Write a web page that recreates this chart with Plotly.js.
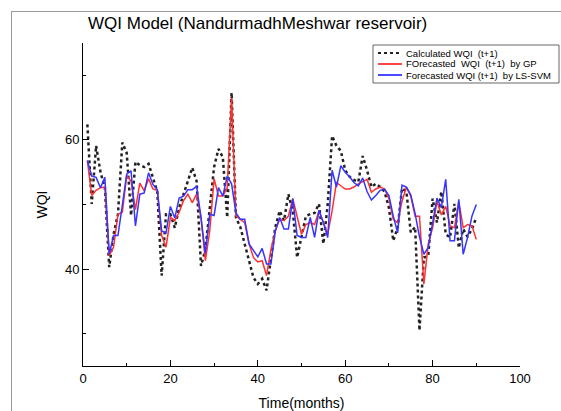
<!DOCTYPE html>
<html>
<head>
<meta charset="utf-8">
<script src="https://cdn.plot.ly/plotly-3.0.1.min.js"></script>
<style>
html,body{margin:0;padding:0;background:#fff;overflow:hidden;}
#chart{width:561px;height:411px;position:relative;}
#frame{position:absolute;left:11px;top:11px;width:600px;height:450px;border:1px solid #999;pointer-events:none;}
</style>
</head>
<body>
<div id="chart"></div>
<div id="frame"></div>
<script>
const months = [];
for (let i = 1; i <= 90; i++) months.push(i);

const calculatedWQI = [62.4,50.1,59.1,55,52.6,40.3,45.4,48.5,59.6,58,
48.3,56.6,56.1,55.8,56.3,54.3,52,39,48.5,48.5,
46.4,49.5,51.6,53.6,55.7,53.6,40.5,43,49.5,55.8,
58.6,57.3,48,67.3,48,46.5,43.9,41.3,38.7,37.7,
38.5,36.7,41.3,46.5,49,47.5,51.6,49,41.8,44.9,
48.2,48.5,48.7,50.1,43.9,50,60.6,59.1,58.3,55.3,
54.3,53.8,53.5,57.5,55.3,52.7,53.2,52.7,52,49.5,
44.4,46.4,52.5,52,45.7,46.5,30.5,41.8,42,50.9,
47.2,52,45.4,44.9,50.1,43.3,46.2,45,46.2,48];

const gpWQI = [56.8,51.4,52.2,52.6,52.7,42.1,43.4,48.5,48.8,54.5,
53.6,49.2,53.3,52.1,54,52.4,52.2,45.2,43.4,48,
47.5,48.8,50.6,51.6,50.3,51.6,48,41.3,45.9,54,
51.3,51.3,52.6,66.5,48.2,47.7,47.2,43.9,41.8,41.1,
41.3,39,43,45.9,47.7,47.5,48.2,50.9,48.2,45.4,
46.9,47.2,46.9,49,47.2,45.4,49,53.4,52.9,52.4,
52.4,52.7,53.2,53.5,53.9,51.9,52.4,52.7,52.4,50.9,
47.7,47.2,50.5,52.7,51.3,48.2,48.2,37.7,43.9,46.4,
50.5,48.4,49.7,46.7,46.4,50.5,46.4,46.9,46.7,44.6];

const svmWQI = [56.8,54.4,54.2,52.6,54.2,42.3,45.2,45.2,49.9,54.7,
55.2,46.7,51.6,51.8,54.9,53.1,52.3,45.9,45.6,49.7,
47.9,51,51.3,52.3,52.3,52.8,48,42.4,48.5,48.3,
52.6,51.3,54.4,53.2,48.7,47.7,47.7,43.9,42.9,41.9,
43.2,40.8,40.8,45.9,48,46.2,46.2,50.9,45.2,44.9,
44.9,48,44.9,49.1,47.2,44.9,55.3,52.7,56,55,
54.3,53.4,52.9,54.1,52,50.7,51.4,52.2,52.4,51.4,
48.2,45.6,53,52.7,51.5,48.6,45,42.3,43.3,46.9,
51,49.5,53.9,44.4,44.4,50.8,42.3,44.9,48.2,50];

const seriesNames = ['Calculated WQI&nbsp; (t+1)', 'FOrecasted&nbsp; WQI&nbsp; (t+1)&nbsp; by GP', 'Forecasted WQI (t+1)&nbsp; by LS-SVM'];
const seriesColors = ['#222222', '#ff3030', '#3535ff'];
const seriesDash = ['dot', 'solid', 'solid'];
const seriesWidth = [2.5, 1.5, 1.5];

const font = 'Arial, "Liberation Sans", sans-serif';
const W = 561, H = 411;
const M = {l: 83, r: 41, t: 43, b: 45};
const PW = W - M.l - M.r, PH = H - M.t - M.b;

const dataSets = [calculatedWQI, gpWQI, svmWQI];
const traces = dataSets.map((ys, i) => ({
  x: months, y: ys, name: seriesNames[i], mode: 'lines',
  line: {color: seriesColors[i], width: seriesWidth[i], dash: seriesDash[i]}
}));

// legend box (pixel positions converted to paper coords)
const px = v => (v - M.l) / PW;
const py = v => (H - M.b - v) / PH;
const shapes = [{type: 'rect', xref: 'paper', yref: 'paper',
  x0: px(373), x1: px(559), y0: py(83), y1: py(45),
  line: {color: '#666', width: 1}, fillcolor: '#fff', layer: 'above'}];
const annotations = [];
const rowY = [53, 64, 75];
seriesNames.forEach((n, i) => {
  shapes.push({type: 'line', xref: 'paper', yref: 'paper',
    x0: px(378), x1: px(402), y0: py(rowY[i]), y1: py(rowY[i]),
    line: {color: seriesColors[i], width: i === 0 ? 2.2 : 1.8, dash: seriesDash[i]}, layer: 'above'});
  annotations.push({xref: 'paper', yref: 'paper', x: px(404), y: py(rowY[i]),
    xanchor: 'left', yanchor: 'middle', text: n, showarrow: false,
    font: {size: 9.5, family: font, color: '#000'}});
});

const layout = {
  width: W, height: H,
  margin: {l: M.l, r: M.r, t: M.t, b: M.b, pad: 0, autoexpand: false},
  paper_bgcolor: '#fff', plot_bgcolor: '#fff',
  font: {family: font, color: '#000', size: 13},
  title: {text: 'WQI Model (NandurmadhMeshwar reservoir)', font: {family: font, size: 17, color: '#000'},
    xref: 'container', x: 0.157, xanchor: 'left', yref: 'container', y: 0.944, yanchor: 'middle'},
  xaxis: {range: [0, 100], tick0: 0, dtick: 20, ticks: 'inside', ticklen: 6, tickcolor: '#000',
    showline: true, linecolor: '#000', linewidth: 1, showgrid: false, zeroline: false,
    minor: {dtick: 10, ticks: 'inside', ticklen: 3, tickcolor: '#000', showgrid: false},
    tickfont: {size: 13, family: font},
    title: {text: 'Time(months)', font: {size: 14, family: font}, standoff: 13}},
  yaxis: {range: [25, 75], tick0: 40, dtick: 20, ticks: 'inside', ticklen: 6, tickcolor: '#000',
    showline: true, linecolor: '#000', linewidth: 1, showgrid: false, zeroline: false,
    minor: {dtick: 10, ticks: 'inside', ticklen: 3, tickcolor: '#000', showgrid: false},
    tickfont: {size: 13, family: font},
    title: {text: 'WQI', font: {size: 14, family: font}, standoff: 14}},
  showlegend: false,
  shapes: shapes,
  annotations: annotations
};

Plotly.newPlot('chart', traces, layout, {displayModeBar: false, staticPlot: true});
</script>
</body>
</html>
